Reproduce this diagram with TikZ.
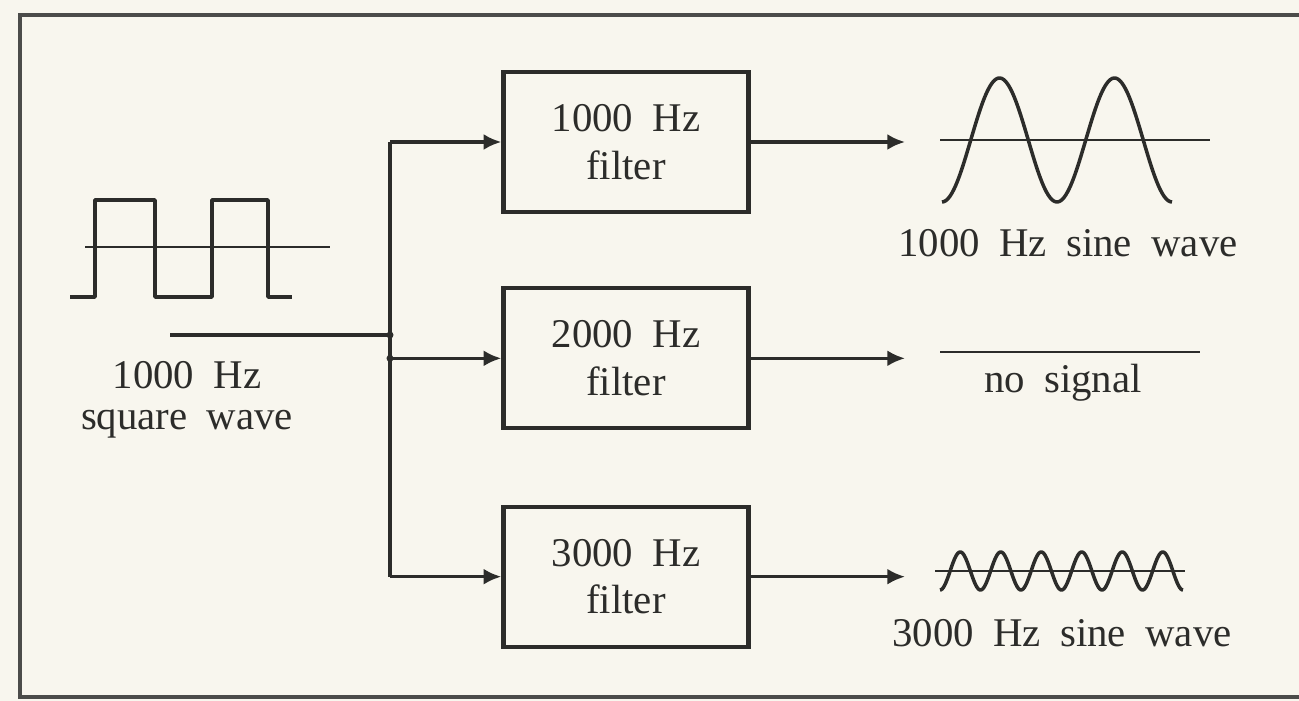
\documentclass[tikz,border=0pt]{standalone}
\usepackage{fontspec}
\setmainfont[WordSpace=1.9]{Liberation Serif}
\usetikzlibrary{positioning,arrows.meta}
\definecolor{paper}{RGB}{248,246,238}
\definecolor{ink}{RGB}{44,44,42}

\begin{document}
\begin{tikzpicture}[x=0.01cm, y=-0.01cm,
    filterbox/.style={rectangle, draw=ink, line width=1.2pt, text=ink,
                      minimum width=2.45cm, minimum height=1.4cm,
                      align=center, font=\fontsize{11.6}{13.5}\selectfont},
    sigtext/.style={text=ink, align=center, font=\fontsize{11.6}{11.8}\selectfont},
    arrow/.style={-{Latex[length=5pt,width=4.5pt]}, line width=0.9pt, ink},
    axisline/.style={line width=0.55pt, ink},
    wave/.style={line width=1pt, ink, line join=round}
]
\path[use as bounding box, fill=paper] (0,0) rectangle (1299,701);
\draw[line width=0.9pt, ink!85] (1299,15) -- (20,15) -- (20,697) -- (1299,697);

% filters
\node[filterbox] (f1) at (626,142) {1000 Hz\\filter};
\node[filterbox, below=0.72cm of f1] (f2) {2000 Hz\\filter};
\node[filterbox, below=0.74cm of f2] (f3) {3000 Hz\\filter};

% bus
\coordinate (in) at (170,335);
\coordinate (j0) at (390,335);
\coordinate (b1) at (390,142);
\coordinate (b2) at (b1 |- f2);
\coordinate (b3) at (b1 |- f3);
\draw[line width=0.9pt, ink] (in) -- (j0);
\draw[line width=0.9pt, ink] (b1) -- (b3);
\fill[ink] (j0) circle (3.5) (b2) circle (3.5);
\draw[arrow] (b1) -- (f1);
\draw[arrow] (b2) -- (f2);
\draw[arrow] (b3) -- (f3);

% outputs
\coordinate (o1) at (905,142);
\coordinate (o2) at (o1 |- f2);
\coordinate (o3) at (o1 |- f3);
\draw[arrow] (f1) -- (o1);
\draw[arrow] (f2) -- (o2);
\draw[arrow] (f3) -- (o3);

% square wave in
\draw[axisline] (85,247) -- (330,247);
\draw[wave] (70,297) -- (95,297) -- (95,200) -- (155,200) -- (155,297)
  -- (212,297) -- (212,200) -- (268,200) -- (268,297) -- (292,297);
\node[sigtext] (sq) at (187,400) {1000 Hz\\square wave};

% 1000 Hz out
\draw[axisline] (940,140) -- (1210,140);
\draw[wave] plot[domain=0:720, samples=120, smooth] ({942+\x/360*115},{140+62*cos(\x)});
\node[sigtext] (s1) at (1068,243) {1000 Hz sine wave};

% 2000 Hz out
\draw[line width=0.7pt, ink] (940,352) -- (1200,352);
\node[sigtext] (s2) at (1063,383) {no signal};

% 3000 Hz out
\draw[axisline] (935,571) -- (1185,571);
\draw[wave] plot[domain=0:2160, samples=240, smooth] ({940+\x/360*40.5},{571+19*cos(\x)});
\node[sigtext] (s3) at (1062,633) {3000 Hz sine wave};
\end{tikzpicture}
\end{document}
